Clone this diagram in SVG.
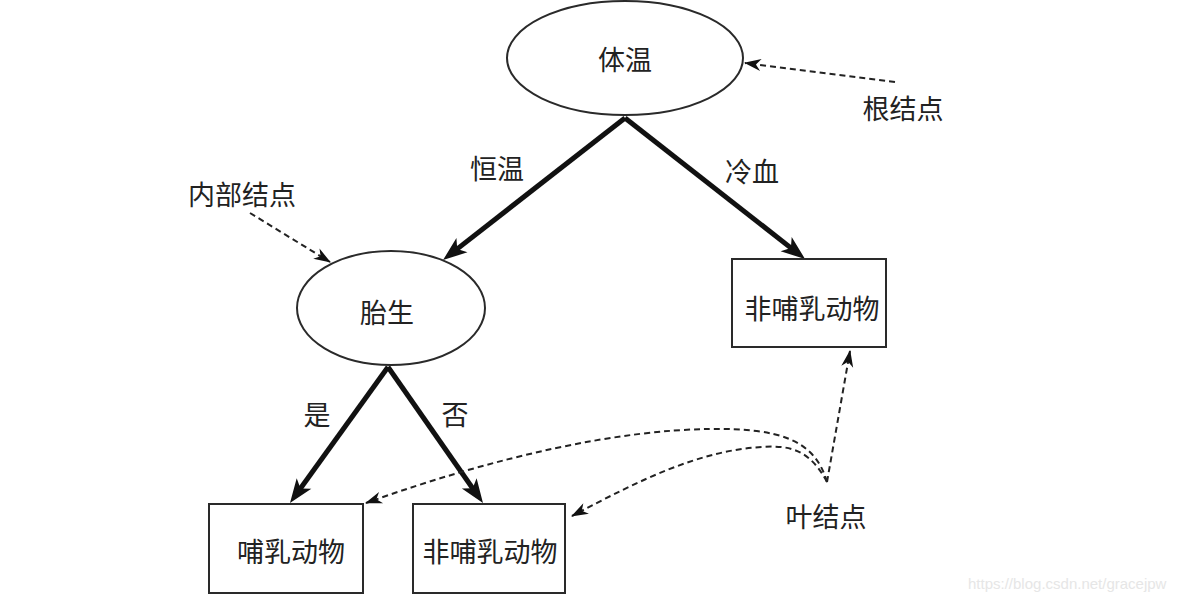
<svg xmlns="http://www.w3.org/2000/svg" width="1187" height="600" viewBox="0 0 1187 600">
<style>
.shape{fill:#fff;stroke:#2a2a2a;stroke-width:2}
.t{font-family:"Noto Sans CJK SC","Noto Sans",sans-serif;font-size:27px;fill:#222;text-anchor:middle;dominant-baseline:central}
.thick{stroke:#111;stroke-width:5;fill:none;marker-end:url(#big)}
.dash{stroke:#222;stroke-width:2;fill:none;stroke-dasharray:6 4;marker-end:url(#small)}
.wm{font-family:"Liberation Sans",Arial,sans-serif;font-size:15px;fill:#e6e6e6}
</style>
<defs>
<marker id="big" markerUnits="userSpaceOnUse" viewBox="-14 -11 28 22" markerWidth="28" markerHeight="22" refX="0" refY="0" orient="auto" overflow="visible">
<path d="M12,0 L-12,-9 L-6,0 L-12,9 Z" fill="#111"/>
</marker>
<marker id="small" markerUnits="userSpaceOnUse" viewBox="-18 -8 20 16" markerWidth="20" markerHeight="16" refX="0" refY="0" orient="auto" overflow="visible">
<path d="M1,0 L-16,-6 L-11,0 L-16,6 Z" fill="#111"/>
</marker>
</defs>
<rect width="1187" height="600" fill="#fff"/>
<g id="connectors">
<line class="thick" x1="625" y1="118" x2="452.5" y2="252.6"/>
<line class="thick" x1="625" y1="118" x2="795.6" y2="251.6"/>
<line class="thick" x1="388" y1="367" x2="297" y2="493.3"/>
<line class="thick" x1="388" y1="367" x2="476.1" y2="493.2"/>
<line class="dash" x1="895" y1="82" x2="745" y2="63"/>
<line class="dash" x1="250" y1="213" x2="330" y2="262"/>
<line class="dash" x1="827" y1="482" x2="850" y2="351"/>
<path class="dash" d="M827,482 C815,440 780,428 710,429 C620,430 500,455 366,503"/>
<path class="dash" d="M827,482 C810,450 790,445 763,447 C700,450 640,480 572,516"/>
</g>
<g id="root">
<ellipse class="shape" cx="625" cy="58" rx="118" ry="57"/>
<text class="t" x="625" y="58">体温</text>
</g>
<g id="taisheng">
<ellipse class="shape" cx="391" cy="308" rx="94" ry="57"/>
<text class="t" x="387" y="311">胎生</text>
</g>
<g id="leaf-right">
<rect class="shape" x="732" y="259" width="154" height="88"/>
<text class="t" x="812" y="307">非哺乳动物</text>
</g>
<g id="leaf-mammal">
<rect class="shape" x="209" y="504" width="154" height="89"/>
<text class="t" x="291" y="550">哺乳动物</text>
</g>
<g id="leaf-nonmammal">
<rect class="shape" x="413" y="504" width="152" height="89"/>
<text class="t" x="490" y="550">非哺乳动物</text>
</g>
<g id="labels">
<text class="t" x="497" y="167">恒温</text>
<text class="t" x="752" y="170">冷血</text>
<text class="t" x="317" y="413">是</text>
<text class="t" x="455" y="413">否</text>
<text class="t" x="903" y="107">根结点</text>
<text class="t" x="242" y="193">内部结点</text>
<text class="t" x="826" y="515">叶结点</text>
</g>
<text class="wm" x="968" y="589">https://blog.csdn.net/gracejpw</text>
</svg>
